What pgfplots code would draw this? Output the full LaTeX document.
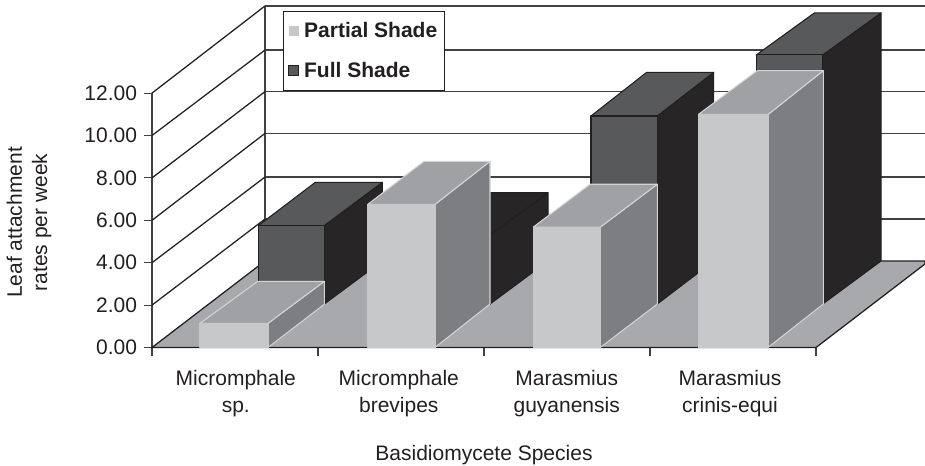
\documentclass[border=0pt]{standalone}
\usepackage{pgfplots}
\pgfplotsset{compat=1.18}
\usepackage{fontspec}
\setmainfont{Liberation Sans}
\definecolor{ink}{HTML}{231F20}
\definecolor{grid}{HTML}{414042}
\definecolor{floorc}{HTML}{A7A9AC}
\definecolor{pf}{HTML}{C7C8CA}
\definecolor{pt}{HTML}{A0A1A4}
\definecolor{ps}{HTML}{7D7E81}
\definecolor{pe}{HTML}{D1D3D4}
\definecolor{ff}{HTML}{58595B}
\definecolor{fs}{HTML}{272526}
\pgfplotsset{
  pface/.style={draw=pe,line width=0.8pt,line join=round,mark=none,forget plot},
  fface/.style={draw=ink,line width=0.8pt,line join=round,mark=none,forget plot},
  wall/.style={draw=grid,line width=0.95pt,mark=none,forget plot},
}
\begin{document}
\begin{tikzpicture}
\useasboundingbox (-114pt,-88.125pt) rectangle ++(693.75pt,348.75pt);
\begin{axis}[
  at={(0pt,0pt)},anchor=south west,
  x=0.75pt,y=15.9pt,
  xmin=152,xmax=816,ymin=0,ymax=12,
  clip=false,
  axis lines=left,
  axis line style={-,draw=grid,line width=1.1pt},
  tick align=outside,
  tick style={draw=grid,line width=0.8pt},
  major tick length=6pt,
  ytick={0,2,4,6,8,10,12},
  xtick={235.8,398.8,566.7,730},
  xticklabels={Micromphale\\sp.,Micromphale\\brevipes,Marasmius\\guyanensis,Marasmius\\crinis-equi},
  minor xtick={152,318,484,650,816},
  minor tick length=6pt,
  x tick style={draw=none},
  minor x tick style={draw=grid,line width=0.8pt},
  every x tick/.style={draw=none},
  every minor x tick/.style={draw=grid,line width=0.8pt},
  xticklabel style={align=center,font=\fontsize{15.75}{20}\selectfont,text=ink,yshift=-7.7pt},
  yticklabel style={font=\fontsize{15.75}{19}\selectfont,text=ink,xshift=-1.75pt},
  /pgf/number format/assume math mode=true,
  /pgf/number format/fixed,/pgf/number format/fixed zerofill,/pgf/number format/precision=2,
  scaled y ticks=false,
  xlabel={Basidiomycete Species},
  xlabel style={at={(axis cs:484,-5.31)},anchor=base,font=\fontsize{15.75}{19}\selectfont,text=ink},
  ylabel={Leaf attachment\\rates per week},
  ylabel style={at={(axis cs:29,5.9)},anchor=center,rotate=0,align=center,font=\fontsize{15.75}{19}\selectfont,text=ink},
  legend cell align=left,
  legend style={at={(axis cs:283.3,15.89)},anchor=north west,draw=ink,line width=0.9pt,fill=white,
    font=\fontsize{15.75}{19}\selectfont\bfseries,text=ink,inner xsep=3.2pt,inner ysep=6.5pt,row sep=12.75pt},
  legend image code/.code={\path[#1] (0pt,-3.7pt) rectangle (7.5pt,3.8pt);\path (9.3pt,0pt);},
]
% back wall and side wall
\addplot[wall] coordinates {(265,4.08)(265,16.11)};
\addplot[wall] coordinates {(265,6.06)(925,6.06)};
\addplot[wall] coordinates {(265,8.04)(925,8.04)};
\addplot[wall] coordinates {(265,10.10)(925,10.10)};
\addplot[wall] coordinates {(265,12.07)(925,12.07)};
\addplot[wall] coordinates {(265,14.03)(925,14.03)};
\addplot[wall] coordinates {(265,16.11)(925,16.11)};
\addplot[wall,draw=ink] coordinates {(152,2)(265,6.06)};
\addplot[wall,draw=ink] coordinates {(152,4)(265,8.04)};
\addplot[wall,draw=ink] coordinates {(152,6)(265,10.10)};
\addplot[wall,draw=ink] coordinates {(152,8)(265,12.07)};
\addplot[wall,draw=ink] coordinates {(152,10)(265,14.03)};
\addplot[wall,draw=ink] coordinates {(152,12)(265,16.11)};
% floor
\addplot[fill=floorc,draw=ink,line width=0.95pt,mark=none,forget plot] coordinates {(152,0)(816,0)(925,3.94)(925,4.08)(265,4.08)} -- cycle;
% Full Shade bars: side, top, front
\addplot[fface,fill=fs] coordinates {(324.3,2.05)(382.3,4.08)(382.3,7.79)(324.3,5.75)} -- cycle;
\addplot[fface,fill=ff] coordinates {(258.3,5.75)(324.3,5.75)(382.3,7.79)(315.3,7.79)} -- cycle;
\addplot[fface,fill=ff] coordinates {(258.3,2.05)(324.3,2.05)(324.3,5.75)(258.3,5.75)} -- cycle;
\addplot[fface,fill=fs] coordinates {(490,2.05)(548,4.08)(548,7.30)(490,5.31)} -- cycle;
\addplot[fface,fill=fs] coordinates {(424,5.31)(490,5.31)(548,7.30)(482,7.30)} -- cycle;
\addplot[fface,fill=ff] coordinates {(424,2.05)(490,2.05)(490,5.31)(424,5.31)} -- cycle;
\addplot[fface,fill=fs] coordinates {(657.3,2.05)(713.7,4.08)(713.7,12.98)(657.3,10.92)} -- cycle;
\addplot[fface,fill=ff] coordinates {(591,10.92)(657.3,10.92)(713.7,12.98)(646.7,12.98)} -- cycle;
\addplot[fface,fill=ff] coordinates {(591,2.05)(657.3,2.05)(657.3,10.92)(591,10.92)} -- cycle;
\addplot[fface,fill=fs] coordinates {(822.7,2.05)(881,4.08)(881,15.78)(822.7,13.80)} -- cycle;
\addplot[fface,fill=ff] coordinates {(756.3,13.80)(822.7,13.80)(881,15.78)(814.3,15.78)} -- cycle;
\addplot[fface,fill=ff] coordinates {(756.3,2.05)(822.7,2.05)(822.7,13.80)(756.3,13.80)} -- cycle;
% Partial Shade bars: side, top, front
\addplot[pface,fill=ps] coordinates {(268,0)(324.3,2.04)(324.3,3.12)(268,1.14)} -- cycle;
\addplot[pface,fill=pt] coordinates {(200,1.14)(268,1.14)(324.3,3.12)(257.7,3.12)} -- cycle;
\addplot[pface,fill=pf,draw=pf] coordinates {(200,0)(268,0)(268,1.14)(200,1.14)} -- cycle;
\addplot[pface,fill=ps] coordinates {(435,0)(490,2.05)(490,8.78)(435,6.75)} -- cycle;
\addplot[pface,fill=pt] coordinates {(367.7,6.75)(435,6.75)(490,8.78)(424,8.78)} -- cycle;
\addplot[pface,fill=pf,draw=pf] coordinates {(367.7,0)(435,0)(435,6.75)(367.7,6.75)} -- cycle;
\addplot[pface,fill=ps] coordinates {(600.3,0)(657.3,2.05)(657.3,7.70)(600.3,5.68)} -- cycle;
\addplot[pface,fill=pt] coordinates {(533.3,5.68)(600.3,5.68)(657.3,7.70)(590,7.70)} -- cycle;
\addplot[pface,fill=pf,draw=pf] coordinates {(533.3,0)(600.3,0)(600.3,5.68)(533.3,5.68)} -- cycle;
\addplot[pface,fill=ps] coordinates {(768,0)(823.3,2.05)(823.3,13.06)(768,10.99)} -- cycle;
\addplot[pface,fill=pt] coordinates {(698.3,10.99)(768,10.99)(823.3,13.06)(757.3,13.06)} -- cycle;
\addplot[pface,fill=pf,draw=pf] coordinates {(698.3,0)(768,0)(768,10.99)(698.3,10.99)} -- cycle;
% legend
\addlegendimage{fill=pf,draw=none}
\addlegendentry{Partial Shade}
\addlegendimage{fill=ff,draw=ink,line width=0.7pt}
\addlegendentry{Full Shade}
\end{axis}
\end{tikzpicture}
\end{document}
